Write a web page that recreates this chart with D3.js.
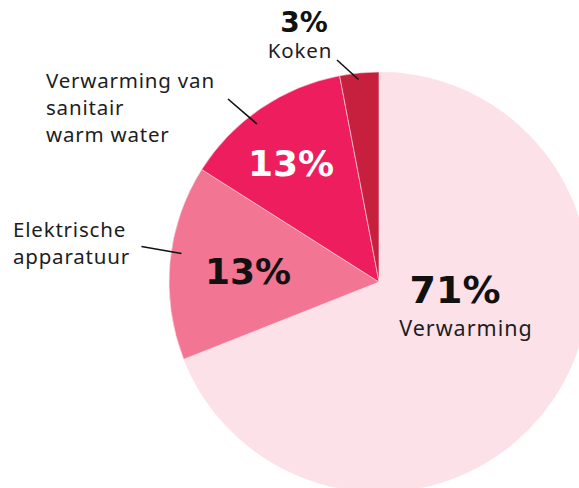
<!DOCTYPE html>
<html>
<head>
<meta charset="utf-8">
<script src="https://cdn.jsdelivr.net/npm/d3@7"></script>
<style>
  html, body { margin: 0; padding: 0; background: #fff; }
  svg { display: block; }
</style>
</head>
<body>
<svg id="chart" width="579" height="488"></svg>
<script>
// Data
const categories = ["Verwarming", "Elektrische apparatuur", "Verwarming van sanitair warm water", "Koken"];
const values = [69, 15, 13, 3];
const percentLabels = ["71%", "13%", "13%", "3%"];
const colors = ["#fce1e8", "#f27593", "#ee1e5e", "#c71f3e"];

// Layout (not data)
const cx = 379, cy = 282, R = 210;

const svg = d3.select("#chart");
const g = svg.append("g").attr("transform", `translate(${cx},${cy})`);

const pie = d3.pie().sort(null).value(d => d.value).startAngle(0).endAngle(2 * Math.PI);
const arc = d3.arc().innerRadius(0).outerRadius(R);

const data = categories.map((c, i) => ({ name: c, value: values[i], pct: percentLabels[i], color: colors[i] }));
const arcs = pie(data);

g.selectAll("path.slice")
  .data(arcs)
  .enter().append("path")
  .attr("class", "slice")
  .attr("d", arc)
  .attr("fill", d => d.data.color)
  .attr("stroke", "#fbe0e7")
  .attr("stroke-width", 0.6);

const pctFont = "'DejaVu Sans', sans-serif";
const txtFont = "'Noto Sans', 'Open Sans', sans-serif";

const layout = [
  { pct: { x: 455, y: 303, size: 38, fill: "#111111" },
    text: { x: 466, y: 336, anchor: "middle", size: 21.5, ls: 1.0, lines: ["Verwarming"] } },
  { pct: { x: 248, y: 284, size: 36, fill: "#111111" },
    text: { x: 13, y: 237, anchor: "start", size: 20.5, ls: 0.8, lines: ["Elektrische", "apparatuur"] },
    leader: [[141.5, 246.5], [181.5, 253.5]] },
  { pct: { x: 291, y: 176, size: 36, fill: "#ffffff" },
    text: { x: 46, y: 88, anchor: "start", size: 20.5, ls: 0.8, lines: ["Verwarming van", "sanitair", "warm water"] },
    leader: [[228, 99], [257, 124]] },
  { pct: { x: 304, y: 32, size: 28, fill: "#111111" },
    text: { x: 300, y: 58, anchor: "middle", size: 20.5, ls: 0.8, lines: ["Koken"] },
    leader: [[337, 60], [358.5, 79.5]] }
];

layout.forEach((L, i) => {
  svg.append("text")
    .attr("x", L.pct.x).attr("y", L.pct.y)
    .attr("text-anchor", "middle")
    .attr("font-family", pctFont)
    .attr("font-weight", "bold")
    .attr("font-size", L.pct.size)
    .attr("fill", L.pct.fill)
    .text(arcs[i].data.pct);

  const tx = svg.append("text")
    .attr("x", L.text.x).attr("y", L.text.y)
    .attr("text-anchor", L.text.anchor)
    .attr("font-family", txtFont)
    .attr("font-size", L.text.size)
    .attr("letter-spacing", L.text.ls)
    .attr("fill", "#1d1d1f");
  L.text.lines.forEach((ln, j) => {
    tx.append("tspan").attr("x", L.text.x).attr("dy", j === 0 ? 0 : 27).text(ln);
  });

  if (L.leader) {
    svg.append("line")
      .attr("x1", L.leader[0][0]).attr("y1", L.leader[0][1])
      .attr("x2", L.leader[1][0]).attr("y2", L.leader[1][1])
      .attr("stroke", "#111").attr("stroke-width", 1.6);
  }
});
</script>
</body>
</html>
